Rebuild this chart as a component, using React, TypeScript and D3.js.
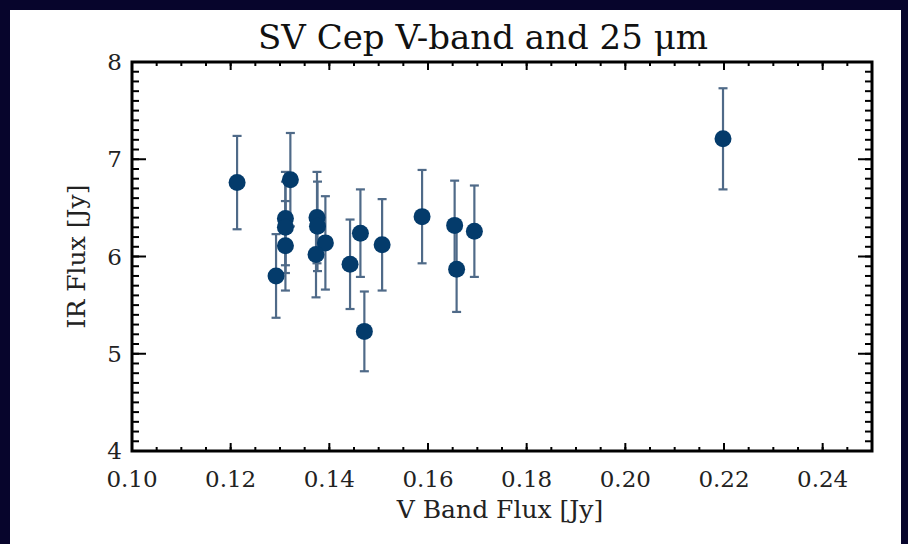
import React from "react";
import * as d3 from "d3";

const vFlux = [0.1213, 0.1321, 0.1311, 0.1311, 0.1311, 0.1292, 0.1375, 0.1376, 0.1392, 0.1373, 0.1442, 0.1463, 0.1471, 0.1507, 0.1588, 0.1654, 0.1658, 0.1694, 0.2198];
const irFlux = [6.76, 6.79, 6.39, 6.30, 6.11, 5.80, 6.40, 6.31, 6.14, 6.02, 5.92, 6.24, 5.23, 6.12, 6.41, 6.32, 5.87, 6.26, 7.21];
const irErr = [0.48, 0.48, 0.48, 0.47, 0.46, 0.43, 0.47, 0.46, 0.48, 0.44, 0.46, 0.45, 0.41, 0.47, 0.48, 0.46, 0.44, 0.47, 0.52];

const xTicks = [0.10, 0.12, 0.14, 0.16, 0.18, 0.20, 0.22, 0.24];
const yTicks = [4, 5, 6, 7, 8];
const title = "SV Cep V-band and 25 \u03bcm";
const xTitle = "V Band Flux [Jy]";
const yTitle = "IR Flux [Jy]";

const W = 908, H = 544;
const L = 132, R = 872, T = 62, B = 451;
const FONT = "'DejaVu Serif', serif";

export default function App() {
  const x = d3.scaleLinear().domain([0.10, 0.25]).range([L, R]);
  const y = d3.scaleLinear().domain([4, 8]).range([B, T]);
  const xMinor = x.ticks(30);
  const yMinor = y.ticks(40);
  const pts = vFlux.map((v, i) => ({ v, f: irFlux[i], e: irErr[i] }));
  const dotColor = "#043b6b";
  const barColor = "#4f6a88";
  return (
    <svg width={W} height={H} style={{ position: "absolute", left: 0, top: 0 }}>
      <rect x={0} y={0} width={W} height={H} fill="#07052c" />
      <rect x={10} y={10} width={891} height={534} fill="#ffffff" />
      {/* minor ticks */}
      <g stroke="#000" strokeWidth={2}>
        {xMinor.map((t, i) => (
          <g key={"xm" + i}>
            <line x1={x(t)} x2={x(t)} y1={B} y2={B - 4} />
            <line x1={x(t)} x2={x(t)} y1={T} y2={T + 4} />
          </g>
        ))}
        {xTicks.map((t, i) => (
          <g key={"xM" + i}>
            <line x1={x(t)} x2={x(t)} y1={B} y2={B - 8} />
            <line x1={x(t)} x2={x(t)} y1={T} y2={T + 8} />
          </g>
        ))}
        {yMinor.map((t, i) => (
          <g key={"ym" + i}>
            <line x1={L} x2={L + 7} y1={y(t)} y2={y(t)} />
            <line x1={R} x2={R - 7} y1={y(t)} y2={y(t)} />
          </g>
        ))}
        {yTicks.map((t, i) => (
          <g key={"yM" + i}>
            <line x1={L} x2={L + 14} y1={y(t)} y2={y(t)} />
            <line x1={R} x2={R - 14} y1={y(t)} y2={y(t)} />
          </g>
        ))}
      </g>
      <rect x={L} y={T} width={R - L} height={B - T} fill="none" stroke="#000" strokeWidth={3} />
      {/* error bars */}
      <g stroke={barColor} strokeWidth={2.2}>
        {pts.map((p, i) => (
          <g key={"e" + i}>
            <line x1={x(p.v)} x2={x(p.v)} y1={y(p.f - p.e)} y2={y(p.f + p.e)} />
            <line x1={x(p.v) - 4.5} x2={x(p.v) + 4.5} y1={y(p.f - p.e)} y2={y(p.f - p.e)} />
            <line x1={x(p.v) - 4.5} x2={x(p.v) + 4.5} y1={y(p.f + p.e)} y2={y(p.f + p.e)} />
          </g>
        ))}
      </g>
      <g fill={dotColor}>
        {pts.map((p, i) => (
          <circle key={"c" + i} cx={x(p.v)} cy={y(p.f)} r={8.5} />
        ))}
      </g>
      {/* labels */}
      <g fontFamily={FONT} fontSize={23} fill="#222">
        {xTicks.map((t, i) => (
          <text key={"xl" + i} x={x(t)} y={487} textAnchor="middle">{t.toFixed(2)}</text>
        ))}
        {yTicks.map((t, i) => (
          <text key={"yl" + i} x={122} y={y(t) + 8} textAnchor="end">{String(t)}</text>
        ))}
      </g>
      <text x={500} y={518} textAnchor="middle" fontFamily={FONT} fontSize={25} fill="#222">{xTitle}</text>
      <text transform={`translate(85,${(T + B) / 2}) rotate(-90)`} textAnchor="middle" fontFamily={FONT} fontSize={25} fill="#222">{yTitle}</text>
      <text x={483} y={49} textAnchor="middle" fontFamily={FONT} fontSize={34} fill="#111">{title}</text>
    </svg>
  );
}
